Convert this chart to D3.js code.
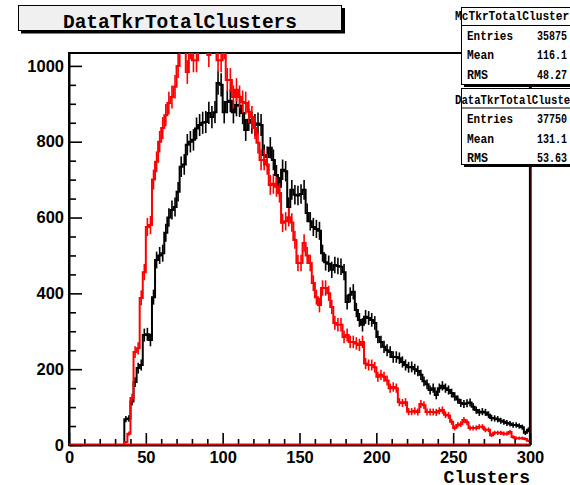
<!DOCTYPE html>
<html><head><meta charset="utf-8">
<script src="https://cdn.jsdelivr.net/npm/d3@7"></script>
<style>body{margin:0;background:#fff;overflow:hidden}svg{display:block}</style>
</head><body><svg id="c" width="570" height="485"></svg>
<script>
// ---------------- data ----------------
const binWidth = 2;           // histogram bin width (Clusters)
const xRange = [0, 300];
const yMax = 1034;
const xMajorTicks = [0, 50, 100, 150, 200, 250, 300];
const xTickLabels = ["0", "50", "100", "150", "200", "250", "300"];
const xMinorTicks = [10,20,30,40,60,70,80,90,110,120,130,140,160,170,180,190,210,220,230,240,260,270,280,290];
const yMajorTicks = [0, 200, 400, 600, 800, 1000];
const yTickLabels = ["0", "200", "400", "600", "800", "1000"];
const yMinorTicks = [50,100,150,250,300,350,450,500,550,650,700,750,850,900,950];

// DataTkrTotalClusters (black), bins of width 2 from 0 to 300
const dataCounts = [
  0,0,0,0,0,0,0,0,0,0,0,0,0,0,0,0,0,0,
  68,70,115,166,203,211,290,292,277,390,488,500,506,560,600,620,628,668,
  734,740,792,800,805,835,844,850,852,876,865,878,955,950,878,905,908,878,
  897,895,876,831,858,850,844,848,844,765,760,784,752,712,681,726,722,628,
  673,660,658,662,673,612,590,575,570,565,506,482,478,462,475,472,470,456,
  377,396,404,356,330,317,338,335,330,322,285,272,259,250,245,232,232,229,
  219,211,205,206,200,195,185,168,160,145,150,132,150,156,150,145,137,128,
  120,111,108,110,112,101,92,86,88,86,80,71,70,68,64,61,58,56,53,53,50,47,32,40
];
// McTkrTotalClusters (red)
const mcCounts = [
  0,0,0,0,0,0,0,0,0,0,0,0,0,0,0,0,0,0,
  8,30,124,245,255,388,456,575,580,700,747,800,836,870,902,918,945,1000,
  1080,1090,984,1050,1015,1015,1080,1110,1090,1029,1070,1090,1015,1015,1050,963,963,918,
  937,918,905,902,879,865,836,797,752,752,740,686,689,681,665,586,590,601,
  587,541,480,480,533,500,480,427,390,369,414,414,400,364,322,317,317,285,
  290,272,272,268,264,272,215,211,211,205,180,185,180,170,150,153,150,113,
  111,113,88,88,90,87,108,105,87,87,87,86,90,92,80,78,61,45,
  53,55,66,60,45,45,45,48,48,40,40,26,32,32,32,30,30,34,21,18,18,18,16,11
];

const statLabels = ["Entries", "Mean", "RMS"];
const mcStatValues = ["35875", "116.1", "48.27"];
const dataStatValues = ["37750", "131.1", "53.63"];
const mcName = "McTkrTotalClusters";
const dataName = "DataTkrTotalClusters";
const xTitle = "Clusters";

// ---------------- drawing ----------------
const svg = d3.select("#c");
const L = 69, R = 530, T = 53, B = 445;
const x = d3.scaleLinear().domain(xRange).range([L, R]);
const y = d3.scaleLinear().domain([0, yMax]).range([B, T]);

svg.append("defs").append("clipPath").attr("id", "plotclip")
  .append("rect").attr("x", L - 2).attr("y", T).attr("width", R - L + 4).attr("height", B - T + 2);

// frame
svg.append("rect").attr("x", L).attr("y", T).attr("width", R - L).attr("height", B - T)
  .attr("fill", "none").attr("stroke", "#000").attr("stroke-width", 2);

function histPath(counts) {
  const pts = counts.map((c, i) => [i * binWidth, c]);
  pts.push([counts.length * binWidth, counts[counts.length - 1]]);
  const line = d3.line().x(d => x(d[0])).y(d => y(d[1])).curve(d3.curveStepAfter);
  return line(pts) + `L${x(xRange[1])},${y(0)}L${x(xRange[0])},${y(0)}`;
}

function drawHist(counts, color) {
  const g = svg.append("g").attr("clip-path", "url(#plotclip)");
  g.append("path").attr("d", histPath(counts)).attr("fill", "none")
    .attr("stroke", color).attr("stroke-width", 2).attr("stroke-linejoin", "miter");
  g.selectAll("line.err").data(counts.map((c, i) => ({c, i})).filter(d => d.c > 0))
    .join("line")
    .attr("x1", d => x((d.i + 0.5) * binWidth)).attr("x2", d => x((d.i + 0.5) * binWidth))
    .attr("y1", d => y(d.c - Math.sqrt(d.c))).attr("y2", d => y(d.c + Math.sqrt(d.c)))
    .attr("stroke", color).attr("stroke-width", 1.6);
}
drawHist(dataCounts, "#000");
drawHist(mcCounts, "#ff0000");

// right frame edge (dark red)
svg.append("line").attr("x1", R + 1.2).attr("x2", R + 1.2).attr("y1", T).attr("y2", B)
  .attr("stroke", "#d00000").attr("stroke-width", 1.4);
svg.append("line").attr("x1", R - 0.3).attr("x2", R - 0.3).attr("y1", T).attr("y2", B)
  .attr("stroke", "#000").attr("stroke-width", 1.6);

const labelFont = "'Liberation Sans', Arial, sans-serif";
const monoFont = "'Liberation Mono', 'Courier New', monospace";

// x axis
const gx = svg.append("g").attr("transform", `translate(0,${B})`);
gx.call(d3.axisBottom(x).tickValues(xMajorTicks).tickSize(-12).tickSizeOuter(0).tickPadding(6)
  .tickFormat((d, i) => xTickLabels[i]));
const gxm = svg.append("g").attr("transform", `translate(0,${B})`);
gxm.call(d3.axisBottom(x).tickValues(xMinorTicks).tickSize(-6).tickSizeOuter(0).tickFormat(""));
gxm.select(".domain").remove();

// y axis
const gy = svg.append("g").attr("transform", `translate(${L},0)`);
gy.call(d3.axisLeft(y).tickValues(yMajorTicks).tickSize(-13).tickSizeOuter(0).tickPadding(5)
  .tickFormat((d, i) => yTickLabels[i]));
const gym = svg.append("g").attr("transform", `translate(${L},0)`);
gym.call(d3.axisLeft(y).tickValues(yMinorTicks).tickSize(-7).tickSizeOuter(0).tickFormat(""));
gym.select(".domain").remove();

[gx, gxm, gy, gym].forEach(g => {
  g.selectAll(".tick line").attr("stroke", "#000").attr("stroke-width", 1.6);
  g.selectAll(".domain").attr("stroke", "#000").attr("stroke-width", 2);
  g.selectAll("text").attr("font-family", labelFont).attr("font-weight", "bold")
    .attr("font-size", 16.5).attr("fill", "#000");
});
// keep red baseline visible on top of axis
svg.append("g").attr("clip-path", "url(#plotclip)").append("line")
  .attr("x1", x(0)).attr("x2", x(300)).attr("y1", B - 0.8).attr("y2", B - 0.8)
  .attr("stroke", "#ff0000").attr("stroke-width", 1.2);

// x axis title
svg.append("text").attr("x", R).attr("y", 483).attr("text-anchor", "end")
  .attr("font-family", monoFont).attr("font-weight", "bold").attr("font-size", 18)
  .text(xTitle);

// title box
const tb = svg.append("g");
tb.append("rect").attr("x", 21).attr("y", 8).attr("width", 324).attr("height", 25.5).attr("fill", "#000");
tb.append("rect").attr("x", 18.5).attr("y", 5.5).attr("width", 323).attr("height", 25)
  .attr("fill", "#f0f0f0").attr("stroke", "#000").attr("stroke-width", 1);
tb.append("text").attr("x", 180).attr("y", 27.5).attr("text-anchor", "middle")
  .attr("font-family", monoFont).attr("font-weight", "bold").attr("font-size", 19.5)
  .text(dataName);

// stats boxes
function statBox(top, h, titleY, sepY, rowY, name, nameLen, values) {
  const g = svg.append("g");
  g.append("rect").attr("x", 464).attr("y", top + 3).attr("width", 120).attr("height", h).attr("fill", "#000");
  g.append("rect").attr("x", 461.5).attr("y", top + 0.5).attr("width", 120).attr("height", h)
    .attr("fill", "#fff").attr("stroke", "#000").attr("stroke-width", 1);
  g.append("line").attr("x1", 461.5).attr("x2", 580).attr("y1", sepY).attr("y2", sepY)
    .attr("stroke", "#000").attr("stroke-width", 1);
  g.append("text").attr("x", 455).attr("y", titleY).attr("font-family", monoFont)
    .attr("font-weight", "bold").attr("font-size", 13)
    .attr("textLength", nameLen).attr("lengthAdjust", "spacingAndGlyphs").text(name);
  const lens = [46, 27, 21];
  statLabels.forEach((lab, i) => {
    const by = rowY[i];
    g.append("text").attr("x", 467).attr("y", by).attr("font-family", monoFont)
      .attr("font-weight", "bold").attr("font-size", 13.5)
      .attr("textLength", lens[i]).attr("lengthAdjust", "spacingAndGlyphs").text(lab);
    g.append("text").attr("x", 537).attr("y", by).attr("font-family", monoFont)
      .attr("font-weight", "bold").attr("font-size", 13.5)
      .attr("textLength", 30).attr("lengthAdjust", "spacingAndGlyphs").text(values[i]);
  });
}
statBox(7, 77, 20, 25.5, [39.5, 59, 78.5], mcName, 121, mcStatValues);
statBox(88, 76, 104, 108, [123, 142.5, 161.5], dataName, 128, dataStatValues);
</script>
</body></html>
